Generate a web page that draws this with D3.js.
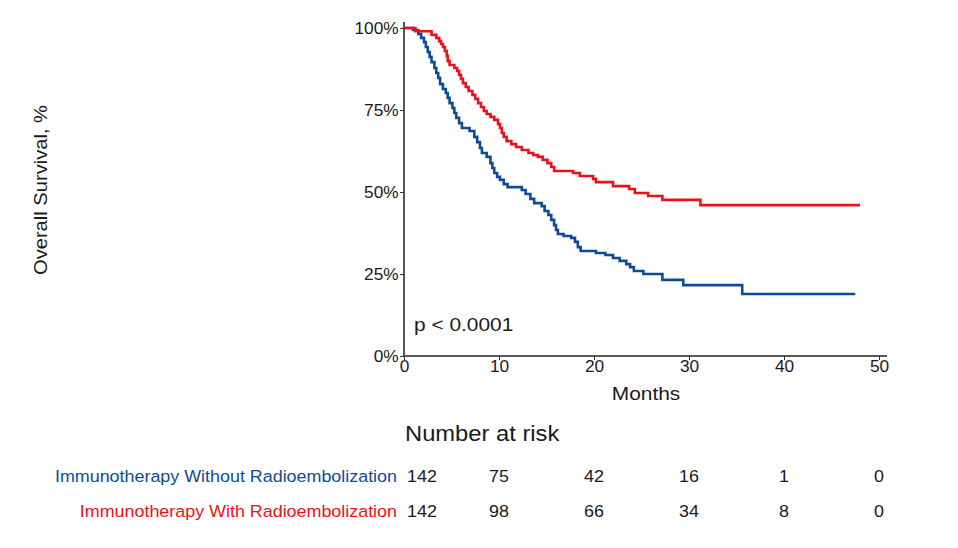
<!DOCTYPE html>
<html>
<head>
<meta charset="utf-8">
<script src="https://cdn.jsdelivr.net/npm/d3@7"></script>
<style>
  body { margin: 0; background: #fff; }
  text { font-family: "Liberation Sans", Arial, sans-serif; fill: #1a1a1a; }
</style>
</head>
<body>
<svg id="km" width="958" height="548"></svg>
<script>
// step times (months) and survival (%)
var blueTimes = [0, 0.95, 1.5, 1.8, 2.1, 2.3, 2.5, 2.7, 2.9, 3.2, 3.4, 3.6, 3.8, 4.1, 4.4, 4.6, 4.8, 5.1, 5.3, 5.5, 5.8, 6.1, 6.9, 7.4, 7.7, 8.0, 8.2, 8.7, 9.1, 9.3, 9.5, 9.8, 10.1, 10.5, 10.9, 12.4, 12.8, 13.3, 13.7, 14.5, 14.8, 15.2, 15.5, 15.8, 16.0, 16.2, 16.8, 17.6, 18.0, 18.3, 18.6, 20.2, 21.2, 22.0, 22.7, 23.4, 23.8, 24.2, 25.2, 27.2, 29.4, 35.6, 47.5];
var blueSurv  = [100, 99.4, 98.2, 97.0, 95.7, 94.2, 92.7, 91.2, 89.6, 87.8, 86.3, 84.8, 82.9, 81.4, 80.2, 78.7, 77.1, 75.6, 74.1, 72.6, 71.0, 69.5, 68.6, 66.8, 65.2, 63.4, 61.9, 60.7, 58.8, 57.3, 55.8, 54.6, 53.7, 52.4, 51.5, 50.6, 49.4, 47.9, 46.6, 45.7, 44.2, 43.0, 41.5, 39.9, 38.4, 37.2, 36.6, 36.0, 34.8, 33.2, 32.0, 31.4, 30.8, 29.9, 29.0, 28.0, 27.1, 25.9, 25.0, 23.2, 21.6, 18.9, 18.9];

var redTimes = [0, 1.2, 2.9, 3.4, 3.7, 3.9, 4.1, 4.3, 4.5, 4.6, 4.8, 5.3, 5.6, 5.8, 6.0, 6.2, 6.5, 6.8, 7.2, 7.5, 7.8, 8.1, 8.4, 8.7, 9.1, 9.5, 9.9, 10.1, 10.3, 10.5, 10.8, 11.3, 11.8, 12.4, 13.1, 13.6, 14.1, 14.6, 15.1, 15.5, 15.8, 17.8, 18.5, 19.9, 20.2, 22.0, 23.7, 24.3, 25.7, 27.2, 31.2, 48.0];
var redSurv  = [100, 99.0, 97.9, 97.0, 96.0, 95.1, 94.2, 93.0, 91.5, 89.9, 88.7, 87.8, 86.9, 85.7, 84.5, 83.2, 82.0, 80.8, 79.6, 78.4, 77.1, 75.9, 74.7, 73.8, 72.9, 72.0, 70.7, 69.5, 68.0, 66.8, 65.5, 64.6, 63.7, 62.8, 61.9, 61.3, 60.7, 59.8, 58.8, 57.6, 56.4, 55.8, 54.9, 54.0, 53.0, 51.8, 50.9, 49.7, 48.8, 47.6, 46.0, 46.0];

var xTicks = [0, 10, 20, 30, 40, 50];
var yTicks = [0, 25, 50, 75, 100];
var groupNames = ["Immunotherapy Without Radioembolization", "Immunotherapy With Radioembolization"];
var riskBlue = [142, 75, 42, 16, 1, 0];
var riskRed  = [142, 98, 66, 34, 8, 0];

var blueColor = "#0d4b94", redColor = "#e8131a";

var svg = d3.select("#km");

var x = d3.scaleLinear().domain([0, 50]).range([404, 879]);
var y = d3.scaleLinear().domain([0, 100]).range([356, 28]);

// the original figure's text is a little wider than Liberation Sans
function label(px, py, str, size, sx, anchor, rot) {
  return svg.append("text")
      .attr("transform", "translate(" + px + "," + py + ")" + (rot ? " rotate(" + rot + ")" : "") + " scale(" + sx + ",1)")
      .attr("text-anchor", anchor || "start")
      .style("font-size", size + "px")
      .text(str);
}

// axes
var xAxis = svg.append("g")
    .attr("transform", "translate(0,356)")
    .call(d3.axisBottom(x).tickValues(xTicks).tickSize(4).tickSizeOuter(0));
xAxis.select(".domain").attr("d", "M404,0H887").attr("stroke", "#222").attr("stroke-width", 1.5);
xAxis.selectAll("text").attr("dy", "0.55em").style("font-size", "16px").attr("transform", "scale(1.08,1)");

var yAxis = svg.append("g")
    .attr("transform", "translate(404,0)")
    .call(d3.axisLeft(y).tickValues(yTicks).tickSize(4).tickSizeOuter(0)
      .tickFormat(function (d) { return d + "%"; }));
yAxis.select(".domain").attr("d", "M0,22V356").attr("stroke", "#555").attr("stroke-width", 2);
yAxis.selectAll("text").attr("x", -5).style("font-size", "16px").attr("transform", "scale(1.08,1)");
svg.selectAll(".tick line").attr("stroke", "#333");

function toPoints(times, surv) {
  return times.map(function (t, i) { return [t, surv[i]]; });
}

var line = d3.line()
    .x(function (d) { return x(d[0]); })
    .y(function (d) { return y(d[1]); })
    .curve(d3.curveStepAfter);

svg.append("path")
    .datum(toPoints(blueTimes, blueSurv))
    .attr("fill", "none")
    .attr("stroke", blueColor)
    .attr("stroke-width", 2.6)
    .attr("d", line);

svg.append("path")
    .datum(toPoints(redTimes, redSurv))
    .attr("fill", "none")
    .attr("stroke", redColor)
    .attr("stroke-width", 2.6)
    .attr("d", line);

// labels
label(47, 190, "Overall Survival, %", 19, 1.06, "middle", -90);
label(646, 400, "Months", 19, 1.1, "middle");
label(414, 331, "p < 0.0001", 19, 1.1, "start");

// number at risk table
label(405, 441, "Number at risk", 22, 1.08, "start");

var rows = [
  { name: groupNames[0], values: riskBlue, color: blueColor, y: 482 },
  { name: groupNames[1], values: riskRed,  color: redColor,  y: 517 }
];

rows.forEach(function (row) {
  label(397, row.y, row.name, 16.5, 1.085, "end").style("fill", row.color);

  row.values.forEach(function (d, i) {
    label(x(xTicks[i]) + (i === 0 ? 18 : 0), row.y, d, 16.5, 1.085, "middle");
  });
});
</script>
</body>
</html>
